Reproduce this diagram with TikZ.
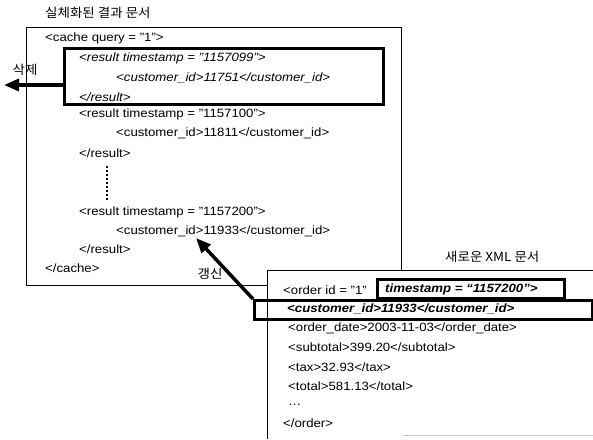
\documentclass[tikz,border=0pt]{standalone}
\usepackage{fontspec}
\setmainfont[FakeStretch=1.1]{Liberation Sans}
\newfontfamily\kor[FakeStretch=1.08]{Noto Sans CJK KR}
\usetikzlibrary{arrows.meta}

\begin{document}
\begin{tikzpicture}[x=1pt, y=-1pt, font=\fontsize{12}{14}\selectfont,
	txt/.style={anchor=west, inner sep=0pt},
	it/.style={txt, font=\fontsize{12}{14}\selectfont\itshape},
	bi/.style={txt, font=\fontsize{12}{14}\selectfont\bfseries\itshape},
	kr/.style={inner sep=0pt, font=\kor\fontsize{12.5}{14}\selectfont},
	frame/.style={draw, line width=1pt, anchor=north west, inner sep=0pt},
	hl/.style={draw, line width=3pt, anchor=north west, inner sep=0pt},
	big/.style={line width=3.5pt, -{Triangle[length=15pt, width=12pt]}}]
	\useasboundingbox (0,0) rectangle (593,439);

	\node[kr, anchor=west] (title) at (45,13) {실체화된 결과 문서};
	\node[frame, minimum width=375, minimum height=258] (cache) at (26,27) {};
	\node[hl, minimum width=319, minimum height=56] (old) at (63,47) {};

	\node[txt] (c1) at (45,38) {<cache query = "1">};
	\node[it] (r1) at (79,58) {<result timestamp = "1157099">};
	\node[it] (i1) at (116,78) {<customer\_id>11751</customer\_id>};
	\node[it] (e1) at (79,97) {</result>};
	\node[txt] (r2) at (79,114) {<result timestamp = "1157100">};
	\node[txt] (i2) at (116,133) {<customer\_id>11811</customer\_id>};
	\node[txt] (e2) at (79,153) {</result>};
	\draw[dotted, line width=2pt] (107,166) -- (107,200);
	\node[txt] (r3) at (79,212) {<result timestamp = "1157200">};
	\node[txt] (i3) at (116,231) {<customer\_id>11933</customer\_id>};
	\node[txt] (e3) at (79,249) {</result>};
	\node[txt] (c2) at (45,268) {</cache>};

	\coordinate (gone) at (4,85);
	\draw[big] (old.west |- gone) -- (gone);
	\node[kr] (del) at (25,70) {삭제};

	\node[fill=white, inner sep=0pt, anchor=north west, minimum width=326,
	minimum height=169] (order) at (267,270) {};
	\draw[line width=1pt] (order.north east) -- (order.north west) -- (order.south west);
	\draw[gray!45, line width=1pt] (403,435) -- (593,435);
	\node[kr, anchor=west] (newdoc) at (445,257) {새로운 XML 문서};

	\node[hl, minimum width=187, minimum height=19] (ts) at (376,278) {};
	\node[hl, minimum width=338, minimum height=19] (new) at (253,299) {};
	\node[txt] (o1) at (283,290) {<order id = "1"};
	\node[bi] (o2) at (385,289) {timestamp = “1157200”>};
	\node[bi] (o3) at (287,309) {<customer\_id>11933</customer\_id>};
	\node[txt] (o4) at (288,328) {<order\_date>2003-11-03</order\_date>};
	\node[txt] (o5) at (288,347) {<subtotal>399.20</subtotal>};
	\node[txt] (o6) at (288,367) {<tax>32.93</tax>};
	\node[txt] (o7) at (288,386) {<total>581.13</total>};
	\node[txt] (o8) at (288,405) {\dots};
	\node[txt] (o9) at (283,423) {</order>};

	\coordinate (upd) at (196,238);
	\draw[big] (new.north west) -- (upd);
	\node[kr] (chg) at (210,274) {갱신};
\end{tikzpicture}
\end{document}
